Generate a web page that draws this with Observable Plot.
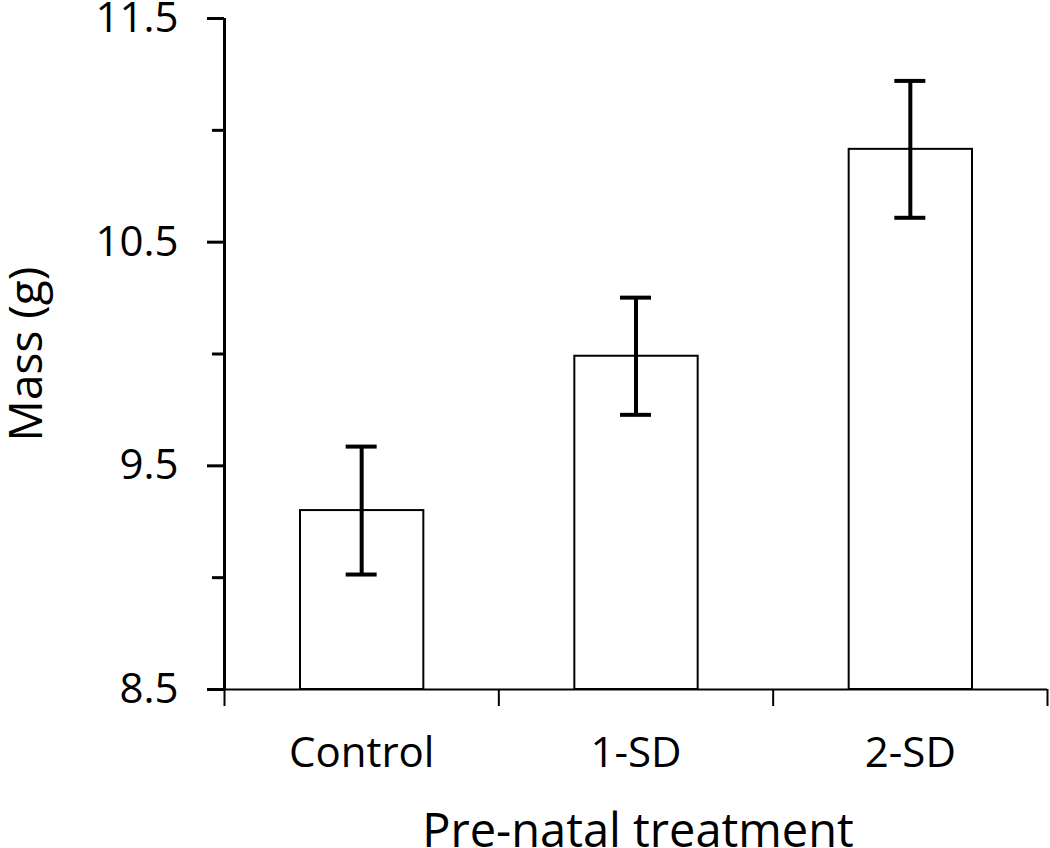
<!DOCTYPE html>
<html>
<head>
<meta charset="utf-8">
<script src="https://cdn.jsdelivr.net/npm/d3@7"></script>
<script src="https://cdn.jsdelivr.net/npm/@observablehq/plot@0.6"></script>
<style>
  html, body { margin: 0; padding: 0; background: #fff; }
  #chart svg { display: block; font-family: "Open Sans", sans-serif; }
</style>
</head>
<body>
<div id="chart"></div>
<script>
const categories = ["Control", "1-SD", "2-SD"];
const means = [9.30, 9.99, 10.915];
const errors = [0.286, 0.262, 0.306];
const yTicks = [8.5, 9.5, 10.5, 11.5];
const yMinorTicks = [9, 10, 11];
const yDomain = [8.5, 11.5];
const xTitle = "Pre-natal treatment";
const yTitle = "Mass (g)";

const data = categories.map((c, i) => ({name: c, i, mean: means[i], err: errors[i]}));
const boundaries = d3.range(categories.length + 1);

const chart = Plot.plot({
  width: 1050,
  height: 848,
  marginLeft: 224,
  marginRight: 3,
  marginTop: 18,
  marginBottom: 159,
  style: {fontFamily: "'Open Sans', sans-serif", color: "#000", background: "#fff"},
  x: {domain: [0, categories.length], axis: null},
  y: {domain: yDomain, axis: null},
  marks: [
    // bars
    Plot.rectY(data, {
      x1: d => d.i, x2: d => d.i + 1,
      y1: () => yDomain[0], y2: d => d.mean,
      insetLeft: 76, insetRight: 75,
      fill: "white", stroke: "black", strokeWidth: 2
    }),
    // x axis line
    Plot.ruleY([yDomain[0]], {stroke: "black", strokeWidth: 2}),
    // x ticks at category boundaries
    Plot.axisX({ticks: boundaries, tickSize: 17, text: null, strokeWidth: 2, anchor: "bottom"}),
    // y axis line
    Plot.ruleX([0], {y1: yDomain[0], y2: yDomain[1], stroke: "black", strokeWidth: 3}),
    // y major ticks + labels
    Plot.axisY({ticks: yTicks, tickSize: 17, tickPadding: 29, tickFormat: d => d.toFixed(1),
      fontSize: 42, strokeWidth: 3, label: null}),
    // y minor ticks
    Plot.axisY({ticks: yMinorTicks, tickSize: 12, text: null, strokeWidth: 3, label: null}),
    // error bars
    Plot.ruleX(data, {x: d => d.i + 0.5, y1: d => d.mean - d.err, y2: d => d.mean + d.err,
      stroke: "black", strokeWidth: 4}),
    Plot.ruleY(data, {y: d => d.mean + d.err, x1: d => d.i + 0.5, x2: d => d.i + 0.5,
      insetLeft: -15.5, insetRight: -15.5, stroke: "black", strokeWidth: 4}),
    Plot.ruleY(data, {y: d => d.mean - d.err, x1: d => d.i + 0.5, x2: d => d.i + 0.5,
      insetLeft: -15.5, insetRight: -15.5, stroke: "black", strokeWidth: 4}),
    // category labels
    Plot.text(data, {x: d => d.i + 0.5, y: () => yDomain[0], text: "name",
      lineAnchor: "top", dy: 48, fontSize: 42, fill: "black"}),
    // axis titles
    Plot.text([xTitle], {frameAnchor: "bottom", lineAnchor: "top", dy: 124, dx: 2,
      fontSize: 47, fill: "black"}),
    Plot.text([yTitle], {frameAnchor: "left", textAnchor: "middle", lineAnchor: "middle",
      rotate: -90, dx: -197, dy: 0, fontSize: 46, fill: "black"})
  ]
});
document.getElementById("chart").appendChild(chart);
</script>
</body>
</html>
